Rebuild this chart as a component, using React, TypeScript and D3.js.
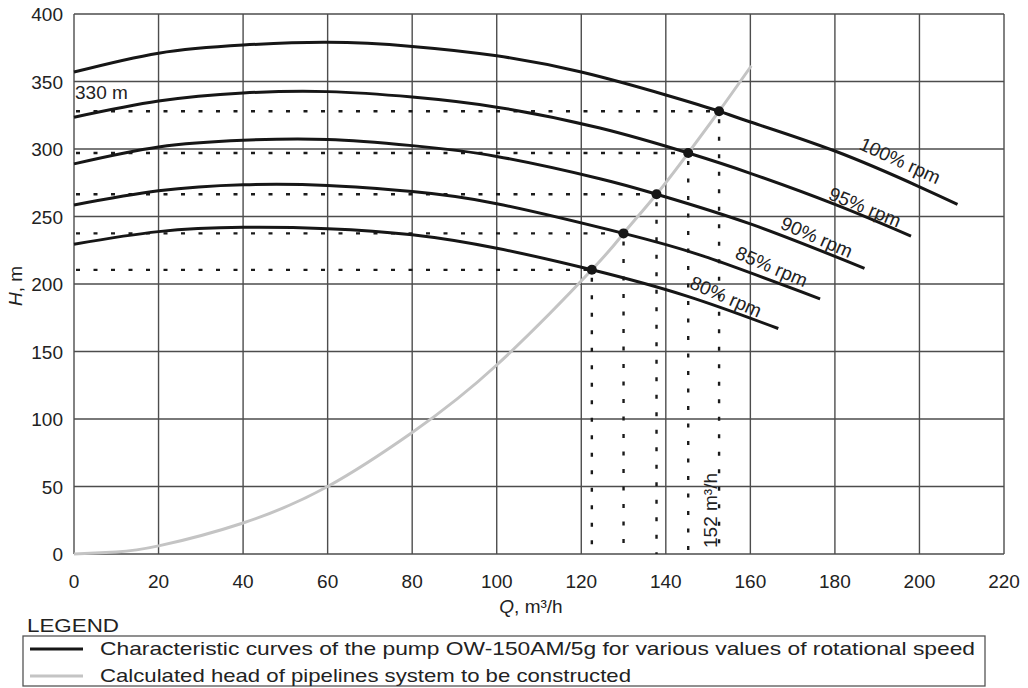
import React from "react";
import * as d3 from "d3";

// ---- data ----
const qTicks = [0, 20, 40, 60, 80, 100, 120, 140, 160, 180, 200, 220];
const hTicks = [0, 50, 100, 150, 200, 250, 300, 350, 400];

const q100 = [0, 20, 40, 60, 80, 100, 120, 140, 152.6, 160, 180, 200, 209];
const h100 = [357, 371, 377, 379, 376, 369, 357, 340, 328, 320, 298.5, 272, 259];

const q95 = [0, 20, 40, 60, 80, 100, 124.4, 145.3, 160, 180, 198];
const h95 = [323.5, 335.5, 341.5, 342.5, 338.5, 331, 315.5, 297, 282, 259, 235.5];

const q90 = [0, 20, 40, 60, 80, 100, 124.4, 137.8, 160, 187];
const h90 = [289, 301.5, 306.5, 307, 302.5, 294.5, 278, 266.5, 244.5, 211.6];

const q85 = [0, 20, 40, 60, 80, 100, 130, 150, 176.5];
const h85 = [258.5, 269, 273.5, 273, 268.5, 259.5, 237.5, 219.5, 189];

const q80 = [0, 20, 40, 60, 80, 100, 122.5, 145, 166.6];
const h80 = [229.5, 238.8, 242, 241, 236.5, 226.5, 210.5, 191, 167];

const qSystem = [0, 10, 20, 40, 60, 80, 100, 122.5, 130, 137.8, 145.3, 152.6, 160.2];
const hSystem = [0, 1.5, 6, 23, 50, 90, 140, 210.5, 237.5, 266.5, 297, 328, 361.5];

const qDuty = [122.5, 130, 137.8, 145.3, 152.6];
const hDuty = [210.5, 237.5, 266.5, 297, 328];

const speedLabels = ["100% rpm", "95% rpm", "90% rpm", "85% rpm", "80% rpm"];
const labelQ = [195.4, 187.1, 175.7, 165.0, 154.2];
const labelH = [291.3, 256.8, 234.6, 212.8, 190.6];
const labelAngle = [24.5, 22.5, 23.5, 23, 23.5];

const legendItems = [
  "Characteristic curves of the pump OW-150AM/5g for various values of rotational speed",
  "Calculated head of pipelines system to be constructed",
];
const legendTextWidths = [875, 531];

// ---- layout ----
const W = 1028;
const H = 688;
const FONT = "'Liberation Sans', Arial, Helvetica, sans-serif";
const FS = 19;

const x = d3.scaleLinear().domain([0, 220]).range([74, 1004]);
const y = d3.scaleLinear().domain([0, 400]).range([554, 14]);

const zip = (qs: number[], hs: number[]) => qs.map((q, i) => [q, hs[i]] as [number, number]);

const line = d3
  .line<[number, number]>()
  .x((d) => x(d[0]))
  .y((d) => y(d[1]))
  .curve(d3.curveNatural);

const pumpCurves = [zip(q100, h100), zip(q95, h95), zip(q90, h90), zip(q85, h85), zip(q80, h80)];
const systemCurve = zip(qSystem, hSystem);

export default function App() {
  const gridColor = "#4d4d4d";
  return (
    <svg
      width={W}
      height={H}
      viewBox={`0 0 ${W} ${H}`}
      style={{ position: "absolute", left: 0, top: 0, display: "block", background: "#fff" }}
      fontFamily={FONT}
    >
      <rect x={0} y={0} width={W} height={H} fill="#fff" />
      {/* grid */}
      {qTicks.map((t) => (
        <line key={"gx" + t} x1={x(t)} x2={x(t)} y1={y(0)} y2={y(400)} stroke={gridColor} strokeWidth={1.4} />
      ))}
      {hTicks.map((t) => (
        <line key={"gy" + t} x1={x(0)} x2={x(220)} y1={y(t)} y2={y(t)} stroke={gridColor} strokeWidth={1.4} />
      ))}

      {/* dotted guide lines */}
      {qDuty.map((q, i) => (
        <g key={"dg" + i}>
          <line
            x1={x(0)}
            x2={x(q)}
            y1={y(hDuty[i])}
            y2={y(hDuty[i])}
            stroke="#1a1a1a"
            strokeWidth={2.4}
            strokeDasharray="4 13.5"
            strokeDashoffset={-2}
          />
          <line
            x1={x(q)}
            x2={x(q)}
            y1={y(hDuty[i])}
            y2={y(0)}
            stroke="#1a1a1a"
            strokeWidth={2.4}
            strokeDasharray="4 13.5"
            strokeDashoffset={-8}
          />
        </g>
      ))}

      {/* system curve */}
      <path d={line(systemCurve) || ""} fill="none" stroke="#c4c4c4" strokeWidth={3} />

      {/* pump curves */}
      {pumpCurves.map((c, i) => (
        <path key={"pc" + i} d={line(c) || ""} fill="none" stroke="#161616" strokeWidth={3} />
      ))}

      {/* duty points */}
      {qDuty.map((q, i) => (
        <circle key={"dp" + i} cx={x(q)} cy={y(hDuty[i])} r={5} fill="#161616" />
      ))}

      {/* speed labels */}
      {speedLabels.map((s, i) => (
        <text
          key={"sl" + i}
          transform={`translate(${x(labelQ[i])},${y(labelH[i])}) rotate(${labelAngle[i]})`}
          textAnchor="middle"
          dominantBaseline="central"
          fontSize={FS}
          fill="#222"
        >
          {s}
        </text>
      ))}

      {/* annotations */}
      <text x={x(0) + 1} y={y(330) - 10} fontSize={FS} fill="#222">
        330 m
      </text>
      <text
        transform={`translate(${x(152.6) - 2},${y(0) - 6}) rotate(-90)`}
        fontSize={FS}
        fill="#222"
      >
        152 m³/h
      </text>

      {/* tick labels */}
      {qTicks.map((t) => (
        <text key={"tx" + t} x={x(t)} y={588} textAnchor="middle" fontSize={FS} fill="#222">
          {t}
        </text>
      ))}
      {hTicks.map((t) => (
        <text key={"ty" + t} x={63} y={y(t) + 7} textAnchor="end" fontSize={FS} fill="#222">
          {t}
        </text>
      ))}

      {/* axis titles */}
      <text x={x(110) - 8} y={613} textAnchor="middle" fontSize={FS} fill="#222">
        <tspan fontStyle="italic">Q</tspan>, m³/h
      </text>
      <text transform="translate(22,286) rotate(-90)" textAnchor="middle" fontSize={FS} fill="#222">
        <tspan fontStyle="italic">H</tspan>, m
      </text>

      {/* legend */}
      <text x={27} y={632} fontSize={FS} fill="#222" textLength={92} lengthAdjust="spacingAndGlyphs">
        LEGEND
      </text>
      <rect x={23} y={636} width={962} height={50} fill="none" stroke="#555" strokeWidth={1.3} />
      {legendItems.map((s, i) => (
        <g key={"lg" + i}>
          <line
            x1={30}
            x2={83}
            y1={649 + i * 27}
            y2={649 + i * 27}
            stroke={i === 0 ? "#161616" : "#c4c4c4"}
            strokeWidth={3}
          />
          <text
            x={100}
            y={655 + i * 27}
            fontSize={FS}
            fill="#222"
            textLength={legendTextWidths[i]}
            lengthAdjust="spacingAndGlyphs"
          >
            {s}
          </text>
        </g>
      ))}
    </svg>
  );
}
